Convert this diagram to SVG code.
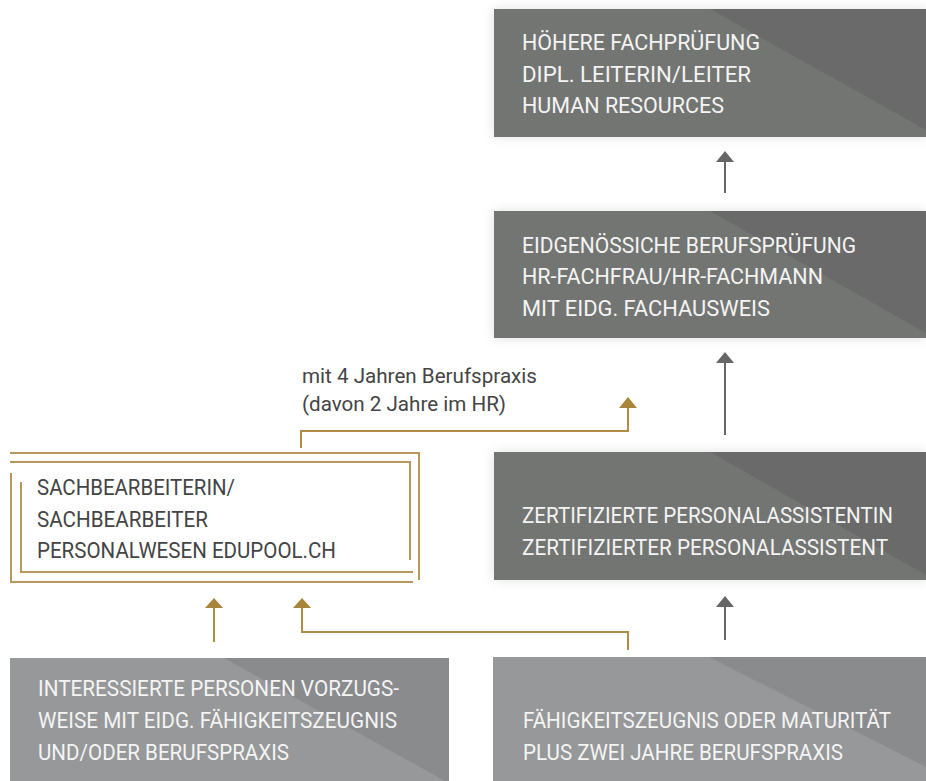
<svg xmlns="http://www.w3.org/2000/svg" width="926" height="781" viewBox="0 0 926 781">
<defs>
<filter id="sh" x="-10%" y="-20%" width="120%" height="140%">
<feDropShadow dx="0" dy="0" stdDeviation="6" flood-color="#000" flood-opacity="0.12"/>
</filter>
<marker id="ag" viewBox="0 0 18 10" markerWidth="18" markerHeight="10" refX="9" refY="10" orient="auto-start-reverse" markerUnits="userSpaceOnUse">
<path d="M0,10 L9,0 L18,10 Z" fill="#a8853a"/>
</marker>
</defs>
<style>
.dk{fill:#737473}
.dk2{fill:#6a6a6a}
.lt{fill:#96989a}
.lt2{fill:#898b8d}
.wt{font-family:Roboto,"Liberation Sans",sans-serif;font-size:22px;fill:#f4f4f4}
.gt{font-family:Roboto,"Liberation Sans",sans-serif;font-size:22px;fill:#444}
.lb{font-family:Roboto,"Liberation Sans",sans-serif;font-size:21px;fill:#444}
.gl{fill:none;stroke:#b8975a;stroke-width:2}
.cg{fill:none;stroke:#b08d45;stroke-width:2}
.cd{fill:none;stroke:#666;stroke-width:2}
.hg{fill:#a8853a}
.hd{fill:#666}
</style>
<rect width="926" height="781" fill="#fff"/>

<g id="n-hfp">
<rect x="494" y="9" width="432" height="128" class="dk" filter="url(#sh)"/>
<polygon points="710,9 926,9 926,130" class="dk2"/>
<text class="wt" x="522" y="50" textLength="238" lengthAdjust="spacingAndGlyphs">HÖHERE FACHPRÜFUNG</text>
<text class="wt" x="522" y="82" textLength="229" lengthAdjust="spacingAndGlyphs">DIPL. LEITERIN/LEITER</text>
<text class="wt" x="522" y="113" textLength="202" lengthAdjust="spacingAndGlyphs">HUMAN RESOURCES</text>
</g>

<g id="n-bp">
<rect x="494" y="211" width="432" height="127" class="dk" filter="url(#sh)"/>
<polygon points="710,211 926,211 926,333" class="dk2"/>
<text class="wt" x="522" y="253" textLength="334" lengthAdjust="spacingAndGlyphs">EIDGENÖSSICHE BERUFSPRÜFUNG</text>
<text class="wt" x="522" y="284" textLength="301" lengthAdjust="spacingAndGlyphs">HR-FACHFRAU/HR-FACHMANN</text>
<text class="wt" x="522" y="316" textLength="248" lengthAdjust="spacingAndGlyphs">MIT EIDG. FACHAUSWEIS</text>
</g>

<g id="n-zpa">
<rect x="494" y="452" width="432" height="128" class="dk" filter="url(#sh)"/>
<polygon points="710,452 926,452 926,575" class="dk2"/>
<text class="wt" x="522" y="523" textLength="371" lengthAdjust="spacingAndGlyphs">ZERTIFIZIERTE PERSONALASSISTENTIN</text>
<text class="wt" x="522" y="555" textLength="366" lengthAdjust="spacingAndGlyphs">ZERTIFIZIERTER PERSONALASSISTENT</text>
</g>

<g id="n-sach">
<path class="gl" d="M10,453 H419 V580"/>
<path class="gl" d="M10,462 H410 V560"/>
<path class="gl" d="M11,473 V582 H413"/>
<path class="gl" d="M21,482 V572 H413"/>
<text class="gt" x="37" y="495" textLength="198" lengthAdjust="spacingAndGlyphs">SACHBEARBEITERIN/</text>
<text class="gt" x="37" y="527" textLength="171" lengthAdjust="spacingAndGlyphs">SACHBEARBEITER</text>
<text class="gt" x="37" y="558" textLength="299" lengthAdjust="spacingAndGlyphs">PERSONALWESEN EDUPOOL.CH</text>
</g>

<g id="n-int">
<rect x="10" y="658" width="439" height="123" class="lt"/>
<polygon points="224,658 449,658 449,781 445,781" class="lt2"/>
<text class="wt" x="38" y="696" textLength="361" lengthAdjust="spacingAndGlyphs">INTERESSIERTE PERSONEN VORZUGS-</text>
<text class="wt" x="38" y="728" textLength="359" lengthAdjust="spacingAndGlyphs">WEISE MIT EIDG. FÄHIGKEITSZEUGNIS</text>
<text class="wt" x="38" y="760" textLength="251" lengthAdjust="spacingAndGlyphs">UND/ODER BERUFSPRAXIS</text>
</g>

<g id="n-fz">
<rect x="493" y="657" width="433" height="124" class="lt"/>
<polygon points="709,657 926,657 926,767" class="lt2"/>
<text class="wt" x="523" y="728" textLength="368" lengthAdjust="spacingAndGlyphs">FÄHIGKEITSZEUGNIS ODER MATURITÄT</text>
<text class="wt" x="523" y="760" textLength="320" lengthAdjust="spacingAndGlyphs">PLUS ZWEI JAHRE BERUFSPRAXIS</text>
</g>

<g id="connectors">
<path class="cd" d="M725,193 V160"/>
<path class="hd" d="M716,162 L725,151 L734,162 Z"/>
<path class="cd" d="M725,435 V362"/>
<path class="hd" d="M716,363 L725,352 L734,363 Z"/>
<path class="cd" d="M725,640 V606"/>
<path class="hd" d="M716,607 L725,596 L734,607 Z"/>

<path class="cg" d="M301,448 V431 H628 V407"/>
<path class="hg" d="M619,408 L628,397 L637,408 Z"/>
<path class="cg" d="M214,642 V607"/>
<path class="hg" d="M205,608 L214,598 L223,608 Z"/>
<path class="cg" d="M628,650 V632 H302 V607"/>
<path class="hg" d="M293,608 L302,598 L311,608 Z"/>

<text class="lb" x="302" y="383" textLength="235" lengthAdjust="spacingAndGlyphs">mit 4 Jahren Berufspraxis</text>
<text class="lb" x="302" y="411" textLength="204" lengthAdjust="spacingAndGlyphs">(davon 2 Jahre im HR)</text>
</g>
</svg>
